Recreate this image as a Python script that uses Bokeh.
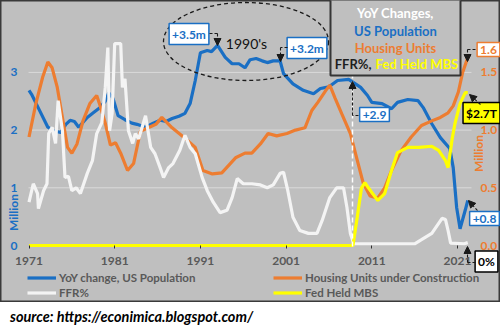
import math
from bokeh.plotting import figure
from bokeh.models import (Range1d, LinearAxis, FixedTicker, Label, Arrow, NormalHead,
                          Legend, LegendItem, Div, NumeralTickFormatter)
from bokeh.layouts import column
from bokeh.embed import file_html
from bokeh.resources import INLINE

# ---------------- data ----------------
pop_years = [1971.0, 1971.3, 1972.2, 1973.2, 1974.0, 1974.7, 1975.3, 1975.8, 1976.3, 1976.8,
             1977.8, 1978.5, 1979.3, 1979.9, 1980.3, 1980.8, 1981.4, 1982.2, 1983.0, 1983.6,
             1984.6, 1985.5, 1986.3, 1987.0, 1987.7, 1988.5, 1989.2, 1989.8, 1990.4, 1991.0,
             1991.8, 1992.3, 1993.0, 1993.9, 1994.7, 1995.5, 1996.2, 1996.8, 1997.5, 1998.2,
             1998.8, 1999.5, 2000.3, 2000.7, 2001.8, 2003.0, 2004.2, 2005.0, 2006.0, 2007.0,
             2008.3, 2009.7, 2010.5, 2011.0, 2012.2, 2013.3, 2014.0, 2015.2, 2016.4, 2017.0,
             2018.0, 2019.0, 2020.1, 2020.5, 2020.9, 2021.3, 2021.9, 2022.2]
pop_change = [2.69, 2.62, 2.35, 2.05, 1.98, 1.96, 2.10, 2.17, 2.15, 2.05,
              2.22, 2.30, 2.39, 2.50, 2.65, 2.55, 2.25, 2.18, 2.12, 2.10,
              2.05, 2.12, 2.17, 2.15, 2.20, 2.24, 2.29, 2.46, 2.86, 3.34,
              3.38, 3.36, 3.47, 3.26, 3.15, 3.15, 3.08, 3.22, 3.24, 3.20,
              3.17, 3.20, 3.20, 2.98, 2.80, 2.69, 2.63, 2.72, 2.75, 2.86,
              2.88, 2.74, 2.60, 2.48, 2.46, 2.37, 2.48, 2.53, 2.51, 2.39,
              2.11, 1.87, 1.68, 1.35, 0.66, 0.29, 0.61, 0.78]

house_years = [1971.0, 1971.8, 1972.6, 1973.2, 1973.7, 1974.3, 1974.9, 1975.5, 1976.0, 1976.6,
               1977.3, 1978.1, 1978.9, 1979.3, 1979.9, 1980.5, 1981.1, 1981.7, 1982.5, 1983.2,
               1984.0, 1984.9, 1985.8, 1986.5, 1987.7, 1989.2, 1990.4, 1991.3, 1992.4, 1993.5,
               1995.1, 1996.2, 1997.0, 1998.0, 1998.9, 1999.9, 2001.1, 2002.1, 2003.2, 2004.0,
               2004.7, 2005.6, 2006.1, 2006.7, 2007.5, 2008.5, 2009.3, 2010.0, 2010.8, 2011.7,
               2012.5, 2013.3, 2014.4, 2015.6, 2016.8, 2018.0, 2019.0, 2019.9, 2020.5, 2021.1,
               2021.6, 2022.2]
house_units = [0.94, 1.23, 1.46, 1.59, 1.54, 1.37, 1.11, 0.85, 0.80, 0.88,
               1.08, 1.23, 1.30, 1.21, 1.06, 0.87, 0.89, 0.80, 0.65, 0.71,
               0.99, 1.02, 1.05, 1.11, 1.02, 0.93, 0.85, 0.65, 0.62, 0.63,
               0.76, 0.80, 0.80, 0.88, 0.97, 0.95, 0.97, 1.00, 1.02, 1.17,
               1.24, 1.34, 1.39, 1.28, 1.14, 0.97, 0.74, 0.54, 0.43, 0.41,
               0.50, 0.65, 0.82, 0.94, 1.04, 1.08, 1.11, 1.15, 1.21, 1.33,
               1.50, 1.63]

ffr_years = [1971.0, 1971.5, 1972.0, 1972.1, 1972.7, 1973.1, 1973.3, 1973.7, 1974.1, 1974.4,
             1974.9, 1975.2, 1975.6, 1976.0, 1976.5, 1977.0, 1977.8, 1978.4, 1978.9, 1979.5,
             1979.9, 1980.2, 1980.4, 1980.7, 1981.0, 1981.7, 1981.9, 1982.2, 1982.6, 1983.1,
             1983.4, 1983.8, 1984.6, 1985.2, 1985.7, 1986.3, 1986.7, 1987.3, 1987.8, 1988.6,
             1989.2, 1989.8, 1990.4, 1991.2, 1991.8, 1992.5, 1993.3, 1994.1, 1994.7, 1995.3,
             1996.0, 1997.0, 1998.0, 1998.8, 1999.5, 2000.3, 2000.7, 2001.2, 2001.8, 2002.6,
             2003.6, 2004.6, 2005.2, 2006.1, 2006.9, 2007.7, 2008.1, 2008.5, 2008.9, 2016.0,
             2016.8, 2018.0, 2019.2, 2019.6, 2019.9, 2020.2, 2021.8, 2022.2]
ffr_scaled = [0.75, 1.07, 0.90, 0.64, 0.95, 1.07, 1.94, 2.05, 1.77, 2.51,
              1.99, 1.18, 1.20, 0.95, 1.00, 0.90, 1.25, 1.47, 1.94, 2.13,
              2.74, 3.43, 1.99, 2.29, 3.50, 3.50, 2.74, 2.89, 1.99, 1.77,
              1.94, 1.85, 2.25, 1.70, 1.59, 1.35, 1.18, 1.35, 1.42, 1.65,
              1.91, 1.70, 1.59, 1.18, 0.95, 0.75, 0.57, 0.61, 0.83, 1.16,
              1.07, 1.07, 1.05, 1.00, 1.05, 1.25, 1.27, 0.95, 0.49, 0.26,
              0.21, 0.21, 0.43, 0.83, 1.00, 1.00, 0.66, 0.21, 0.03, 0.03,
              0.10, 0.21, 0.47, 0.45, 0.26, 0.04, 0.03, 0.05]

mbs_years = [1971.0, 2008.8, 2009.3, 2009.8, 2010.2, 2010.6, 2011.0, 2011.7, 2012.5, 2013.3,
             2014.0, 2015.2, 2016.5, 2018.0, 2018.8, 2019.6, 2019.9, 2020.4, 2020.7, 2021.3,
             2021.9, 2022.2]
mbs_trillions = [0.0, 0.0, 0.49, 1.00, 1.09, 1.00, 0.92, 0.78, 0.90, 1.30,
                 1.61, 1.70, 1.70, 1.72, 1.65, 1.47, 1.35, 1.87, 2.11, 2.46,
                 2.65, 2.65]

x_ticks = [1971, 1981, 1991, 2001, 2011, 2021]
left_ticks = [0, 1, 2, 3]
right_ticks = [0.0, 0.5, 1.0, 1.5]

# ---------------- styling ----------------
BLUE = "#1a6fc4"
ORANGE = "#ed7d31"
WHITE = "#f4f4f4"
YELLOW = "#ffff00"
BG = "#bfbfbf"
FONT = "Lato"
W, H = 500, 302

# pixel -> data helpers (for annotation placement only)
PXY, PYU = 8.57, 57.7
XS = 1971 - 28.5 / PXY
def X(px):
    return XS + px / PXY
def Y(py):
    return (245 - py) / PYU

p = figure(width=W, height=H, output_backend="svg", toolbar_location=None,
           x_range=Range1d(X(0), X(W)), y_range=Range1d(Y(H), Y(0)),
           x_axis_location=None, y_axis_location=None, min_border=0)
p.background_fill_color = BG
p.border_fill_color = BG
p.outline_line_color = "#3a3a3a"
p.outline_line_width = 2
p.extra_y_ranges = {"right": Range1d(Y(H) / 2, Y(0) / 2)}
p.xgrid.visible = False
p.ygrid.visible = False

def style_axis(ax, color, standoff):
    ax.axis_line_color = None
    ax.minor_tick_line_color = None
    ax.minor_tick_out = 0
    ax.minor_tick_in = 0
    ax.major_label_standoff = standoff
    ax.major_label_text_font = FONT
    ax.major_label_text_font_style = "bold"
    ax.major_label_text_font_size = "12px"
    ax.major_label_text_color = color

xa = LinearAxis(ticker=FixedTicker(ticks=x_ticks), fixed_location=0)
style_axis(xa, "#595959", 8)
xa.major_tick_out = 3
xa.major_tick_in = 0
xa.major_tick_line_color = "#303030"
p.add_layout(xa, "below")

ya = LinearAxis(ticker=FixedTicker(ticks=left_ticks), fixed_location=X(24))
style_axis(ya, BLUE, 7)
ya.major_tick_line_color = None
ya.major_tick_out = 0
ya.major_tick_in = 0
p.add_layout(ya, "left")

ra = LinearAxis(y_range_name="right", ticker=FixedTicker(ticks=right_ticks),
                formatter=NumeralTickFormatter(format="0.0"), fixed_location=X(472))
style_axis(ra, ORANGE, 8)
ra.major_tick_line_color = None
ra.major_tick_out = 0
ra.major_tick_in = 0
p.add_layout(ra, "right")

# horizontal gridlines
p.segment(x0=[X(28)] * 3, x1=[X(471)] * 3, y0=left_ticks[1:], y1=left_ticks[1:],
          line_color="#dadada", line_width=1)

# series
r_pop = p.line(pop_years, pop_change, color=BLUE, line_width=3.2)
r_house = p.line(house_years, house_units, color=ORANGE, line_width=3.2, y_range_name="right")
r_ffr = p.line(ffr_years, ffr_scaled, color=WHITE, line_width=3.2)
r_mbs = p.line(mbs_years, mbs_trillions, color=YELLOW, line_width=3.2)

# white dashed marker at 2008
p.line([X(352), X(352)], [Y(73), Y(246)], color="white", line_width=1.5, line_dash="5 3")

# dashed ellipse round the 1990's
p.ellipse(x=[X(245.5)], y=[Y(41)], width=165, height=78, width_units="screen",
          height_units="screen", fill_color=None, line_color="#1a1a1a", line_dash="4 3",
          line_width=1.3)

# title box
p.quad(left=[X(330)], right=[X(460)], top=[Y(-2)], bottom=[Y(75)],
       fill_color=BG, line_color="#353535", line_width=2)

def txt(px, py, s, color, size="13px", style="bold", align="center", angle=0.0, **kw):
    lab = Label(x=X(px), y=Y(py), text=s, text_color=color, text_font=FONT,
                text_font_size=size, text_font_style=style, text_align=align,
                text_baseline="middle", angle=angle, **kw)
    p.add_layout(lab)
    return lab

txt(395, 12, "YoY Changes,", "white")
txt(395, 30, "US Population", BLUE)
txt(395, 47, "Housing Units", ORANGE)
txt(371, 63, "FFR%,", "#1e1e1e", align="right")
txt(375, 63, "Fed Held MBS", YELLOW, align="left")

txt(246, 43, "1990's", "#111111", size="14px", style="normal")

# axis titles
txt(13, 212, "Million", BLUE, size="12px", angle=math.pi / 2)
txt(478, 153, "Million", ORANGE, size="12px", angle=math.pi / 2)

# callout boxes
def box(px, py, s, color, border, fill="white"):
    txt(px, py, s, color, size="12px", background_fill_color=fill,
        border_line_color=border, border_line_width=1.5, padding=3)

box(188.5, 33.5, "+3.5m", BLUE, BLUE)
box(306.5, 47.5, "+3.2m", BLUE, BLUE)
box(374, 114, "+2.9", BLUE, BLUE)
box(488, 49, "1.6", ORANGE, ORANGE)
box(481, 112.5, "$2.7T", "black", "black", fill=YELLOW)
box(484, 218, "+0.8", BLUE, BLUE)
box(486, 261, "0%", "black", "black")

def seg(x1, y1, x2, y2, head=False):
    a = Arrow(x_start=X(x1), y_start=Y(y1), x_end=X(x2), y_end=Y(y2),
              line_color="#1a1a1a", line_width=1.1, line_dash="3 2",
              end=NormalHead(size=7, fill_color="#1a1a1a", line_color="#1a1a1a") if head else None)
    p.add_layout(a)

seg(209, 33, 217, 33); seg(217, 33, 217, 45, True)
seg(287, 47, 280, 47); seg(280, 47, 280, 61, True)
seg(358, 115, 352, 115); seg(352, 115, 352, 81, True)
seg(475, 49, 467, 49); seg(467, 49, 467, 61, True)
seg(480, 104, 469, 94, True)
seg(477, 210, 468, 200, True)
seg(475, 262, 467, 262); seg(467, 262, 467, 246, True)

# legend (two columns, in the bottom strip)
items = [LegendItem(label="YoY change, US Population", renderers=[r_pop]),
         LegendItem(label="Housing Units under Construction", renderers=[r_house]),
         LegendItem(label="FFR%", renderers=[r_ffr]),
         LegendItem(label="Fed Held MBS", renderers=[r_mbs])]
legend = Legend(items=items, orientation="horizontal", ncols=2, location=(27, 2),
                glyph_width=29, glyph_height=15, label_height=15, label_width=214,
                label_standoff=3, spacing=0, padding=0, margin=0,
                label_text_font=FONT, label_text_font_style="bold",
                label_text_font_size="11.5px", label_text_color="#595959",
                background_fill_alpha=0, border_line_color=None)
p.add_layout(legend, "center")

src = Div(text='<span style="font-family: Lato; font-weight: bold; font-style: italic; '
               'font-size: 14.5px; color: #000;">source: https://econimica.blogspot.com/</span>',
          width=W, height=332 - H, margin=(0, 0, 0, 0),
          styles={"padding-left": "10px", "padding-top": "5px", "background": "white"})

layout = column(p, src, spacing=0)
open("out.html", "w").write(file_html(layout, INLINE))
